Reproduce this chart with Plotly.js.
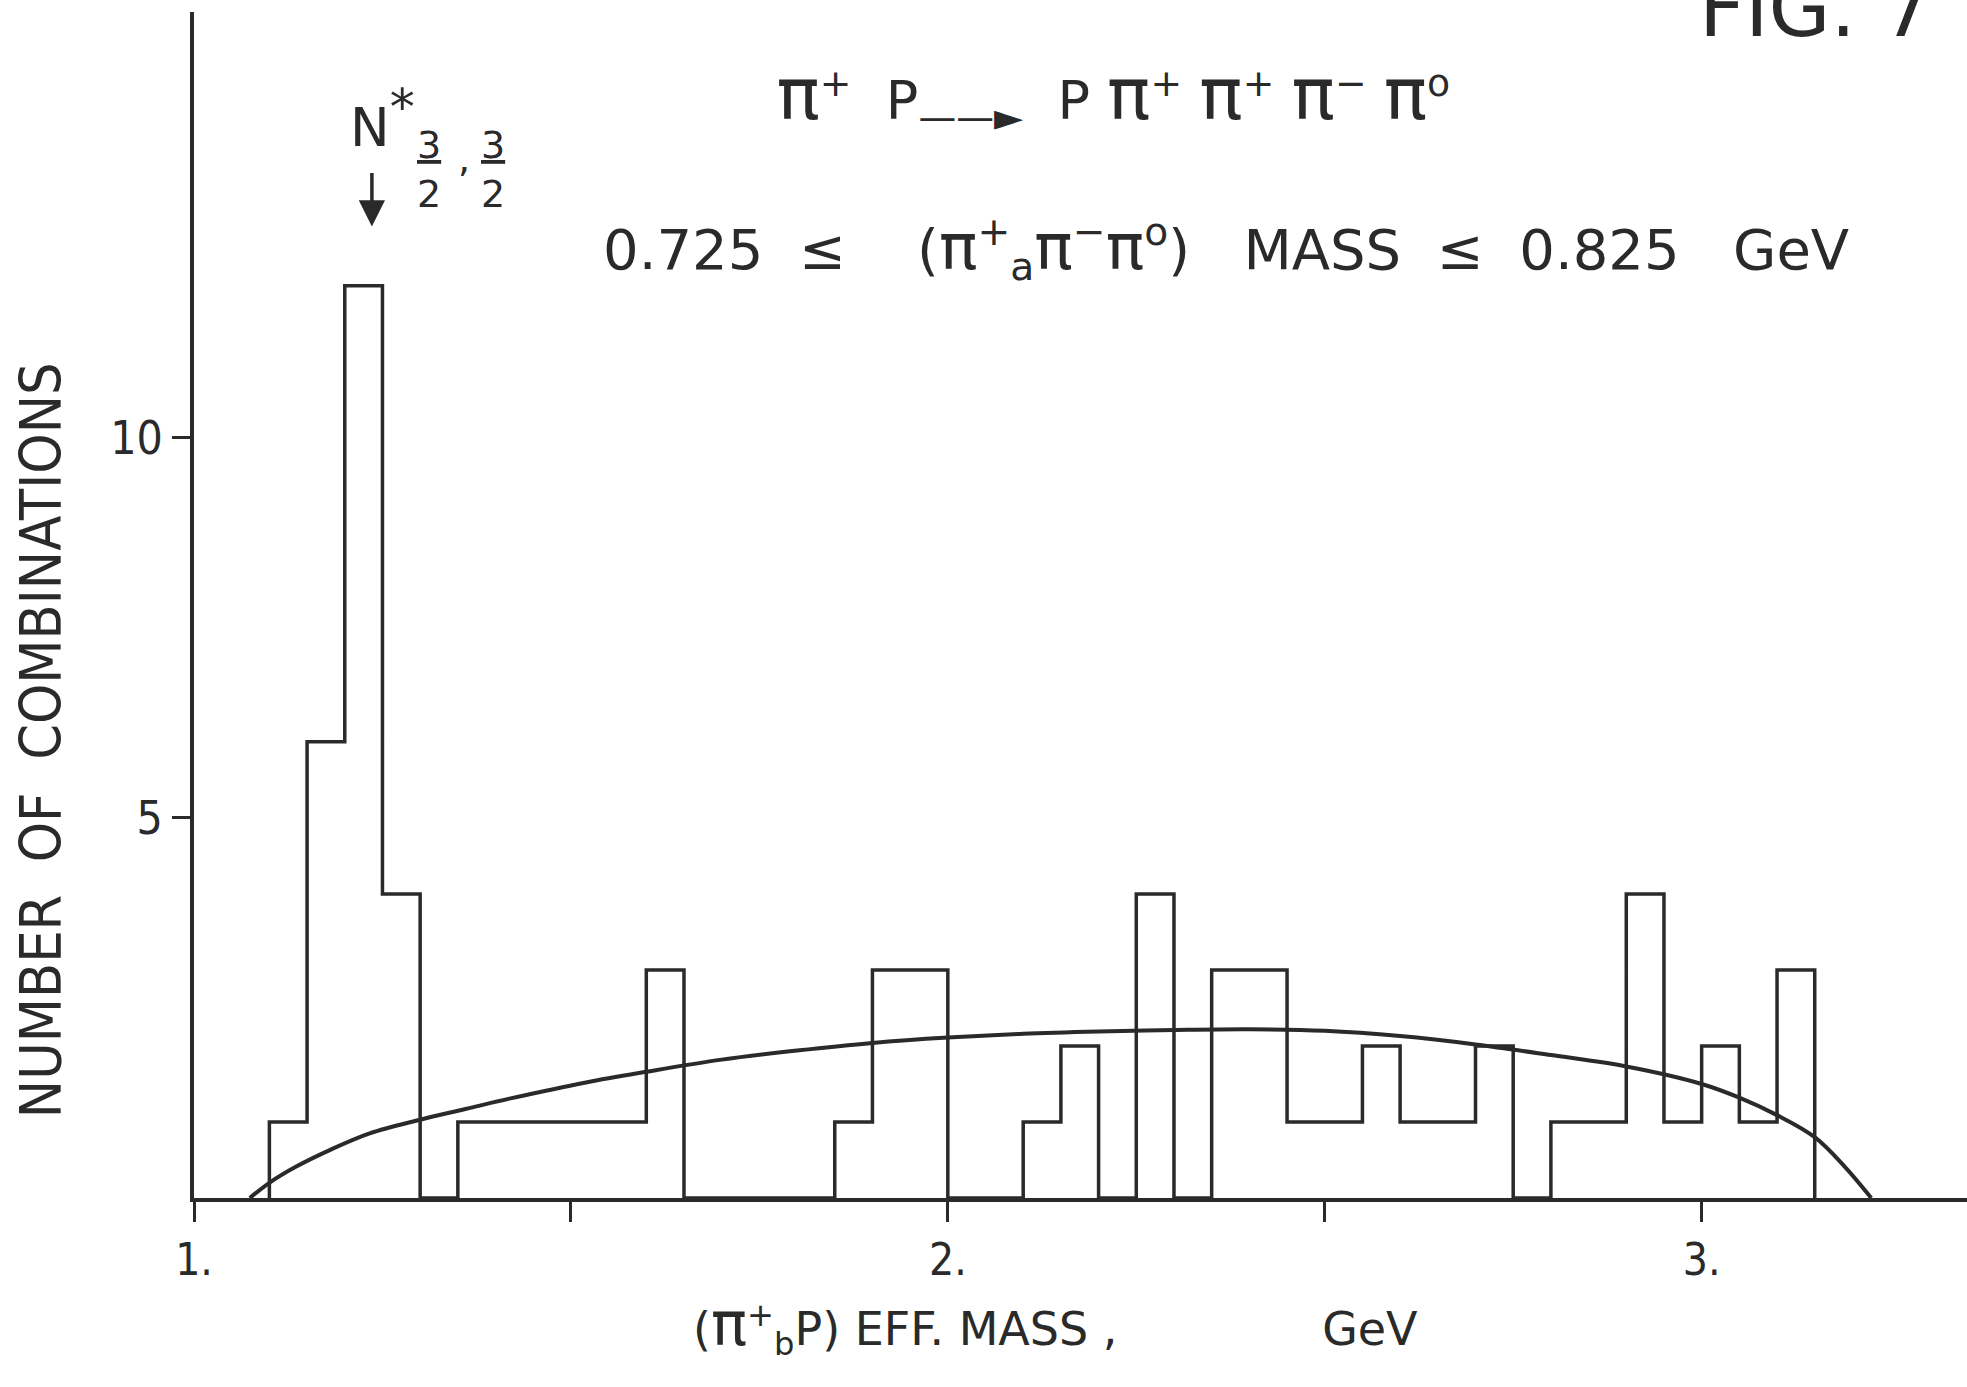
<!DOCTYPE html>
<html>
<head>
<meta charset="utf-8">
<script src="https://cdn.plot.ly/plotly-3.0.1.min.js"></script>
<style>
html,body{margin:0;padding:0;background:#fff;}
#chart{width:1967px;height:1387px;}
</style>
</head>
<body>
<div id="chart"></div>
<script>
// Histogram: bin lower edges (GeV) and counts, bin width 0.05 GeV
var binStart = [1.10,1.15,1.20,1.25,1.30,1.35,1.40,1.45,1.50,1.55,1.60,1.65,1.70,1.75,1.80,1.85,1.90,1.95,2.00,2.05,2.10,2.15,2.20,2.25,2.30,2.35,2.40,2.45,2.50,2.55,2.60,2.65,2.70,2.75,2.80,2.85,2.90,2.95,3.00,3.05,3.10];
var counts   = [1,   6,   12,  4,   0,   1,   1,   1,   1,   1,   3,   0,   0,   0,   0,   1,   3,   3,   0,   0,   1,   2,   0,   4,   0,   3,   3,   1,   1,   2,   1,   1,   2,   0,   1,   1,   4,   1,   2,   1,   3];
var binWidth = 0.05;

// Phase-space curve
var curveX = [1.074,1.10,1.135,1.18,1.233,1.30,1.36,1.42,1.52,1.60,1.70,1.80,1.90,2.00,2.10,2.20,2.30,2.40,2.50,2.60,2.70,2.80,2.90,3.00,3.05,3.10,3.15,3.19,3.225];
var curveY = [0,    0.20,0.41, 0.63,0.85, 1.03,1.17,1.31,1.52,1.66,1.82,1.94,2.04,2.11,2.16,2.19,2.21,2.22,2.20,2.13,2.02,1.88,1.73,1.50,1.32,1.09,0.80,0.41,0];

var xTickVals = [1,1.5,2,2.5,3];
var xTickText = ['1.','','2.','','3.'];
var yTickVals = [5,10];
var yTickText = ['5','10'];

// build outline of histogram from the arrays
var hx = [binStart[0]], hy = [0];
for (var i = 0; i < binStart.length; i++) { hx.push(binStart[i]); hy.push(counts[i]); }
hx.push(binStart[binStart.length-1] + binWidth); hy.push(0);

var ink = '#2a2a2a';
var COND = 'DejaVu Sans Condensed, Liberation Sans Narrow, DejaVu Sans, sans-serif';
var REG = 'DejaVu Sans, sans-serif';
function bigPi(px) { return '<span style="font-size:' + px + 'px">π</span>'; }

var traces = [
  {x: hx, y: hy, type: 'scatter', mode: 'lines', line: {shape: 'hv', color: ink, width: 3.5}, hoverinfo: 'skip', cliponaxis: false},
  {x: curveX, y: curveY, type: 'scatter', mode: 'lines', line: {shape: 'spline', smoothing: 1, color: ink, width: 4}, hoverinfo: 'skip'}
];

var layout = {
  width: 1967, height: 1387,
  margin: {l: 194, r: 0, t: 12, b: 189},
  paper_bgcolor: '#fff', plot_bgcolor: '#fff',
  showlegend: false,
  font: {family: REG, color: ink},
  title: {
    text: bigPi(72) + '<sup>+</sup>  P<sub>——►</sub>  P ' + bigPi(72) + '<sup>+</sup> ' + bigPi(72) + '<sup>+</sup> ' + bigPi(72) + '<sup>−</sup> ' + bigPi(72) + '<sup>o</sup>',
    font: {family: REG, size: 54, color: ink},
    xref: 'container', yref: 'container', x: 0.566, y: 0.928, xanchor: 'center', yanchor: 'middle'
  },
  xaxis: {
    range: [1, 3.352], showgrid: false, zeroline: false,
    showline: true, linecolor: ink, linewidth: 4,
    ticks: 'outside', ticklen: 20, tickwidth: 3, tickcolor: ink,
    tickvals: xTickVals, ticktext: xTickText,
    tickfont: {family: COND, size: 44, color: ink},
    automargin: false
  },
  yaxis: {
    range: [0, 15.6], showgrid: false, zeroline: false,
    showline: true, linecolor: ink, linewidth: 4,
    ticks: 'outside', ticklen: 18, tickwidth: 3, tickcolor: ink,
    tickvals: yTickVals, ticktext: yTickText,
    tickfont: {family: COND, size: 46, color: ink},
    automargin: false
  },
  annotations: [
    {text: '(' + bigPi(60) + '<sup>+</sup><sub>b</sub>P) EFF. MASS ,              GeV', xref: 'paper', yref: 'paper', x: 0.2803, y: -0.108, xanchor: 'left', yanchor: 'middle', showarrow: false, font: {family: REG, size: 46, color: ink}},
    {text: 'NUMBER  OF  COMBINATIONS', textangle: -90, xref: 'paper', yref: 'paper', x: -0.0863, y: 0.386, xanchor: 'center', yanchor: 'middle', showarrow: false, font: {family: COND, size: 57, color: ink}},
    {text: '0.725  ≤    (' + bigPi(64) + '<sup>+</sup><sub>a</sub>' + bigPi(64) + '<sup>−</sup>' + bigPi(64) + '<sup>o</sup>)   MASS  ≤  0.825   GeV', xref: 'paper', yref: 'paper', x: 0.582, y: 0.80, xanchor: 'center', yanchor: 'middle', showarrow: false, font: {family: REG, size: 56, color: ink}},
    {text: 'FIG. 7', xref: 'paper', yref: 'paper', x: 0.8477, y: 0.962, xanchor: 'left', yanchor: 'bottom', showarrow: false, font: {family: REG, size: 80, color: ink}},
    {text: 'N<sup><span style="font-size:50px">*</span></sup>', xref: 'x', yref: 'y', x: 1.25, y: 14.2, xanchor: 'center', yanchor: 'middle', showarrow: false, font: {family: REG, size: 53, color: ink}},
    {text: ' ', xref: 'x', yref: 'y', x: 1.236, y: 12.78, showarrow: true, arrowhead: 2, arrowsize: 1.5, arrowwidth: 3.5, arrowcolor: ink, ax: 0, ay: -62, standoff: 0},
    {text: '<u>3</u><br>2', xref: 'x', yref: 'y', x: 1.312, y: 13.53, xanchor: 'center', yanchor: 'middle', showarrow: false, font: {family: REG, size: 38, color: ink}},
    {text: ',', xref: 'x', yref: 'y', x: 1.358, y: 13.67, xanchor: 'center', yanchor: 'middle', showarrow: false, font: {family: REG, size: 38, color: ink}},
    {text: '<u>3</u><br>2', xref: 'x', yref: 'y', x: 1.396, y: 13.53, xanchor: 'center', yanchor: 'middle', showarrow: false, font: {family: REG, size: 38, color: ink}}
  ]
};

Plotly.newPlot('chart', traces, layout, {staticPlot: true, displayModeBar: false});
</script>
</body>
</html>
